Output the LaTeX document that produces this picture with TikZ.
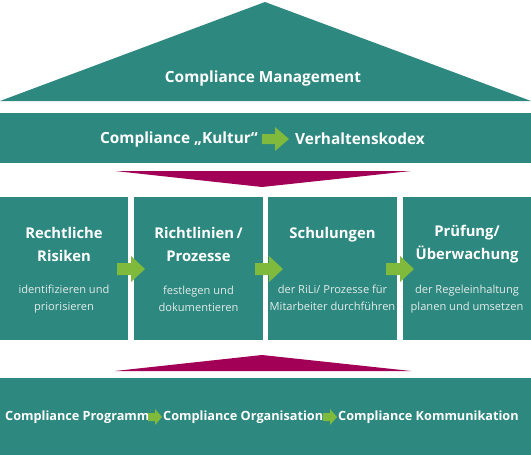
\documentclass[tikz,border=0pt]{standalone}
\usepackage{fontspec}
\setmainfont{Open Sans}
\begin{document}
\begin{tikzpicture}[x=1pt,y=-1pt,
  teal/.style={fill=tealc,draw=none},
  mag/.style={fill=magc,draw=none},
  grn/.style={fill=grnc,draw=none},
  title/.style={text=white,font=\bfseries\fontsize{14.8}{23}\selectfont,align=center,inner sep=0pt},
  sub/.style={text=subc,font=\fontsize{11.1}{16.5}\selectfont,align=center,inner sep=0pt},
  band/.style={text=white,font=\bfseries\fontsize{15.4}{17}\selectfont,inner sep=0pt},
  bandsmall/.style={text=white,font=\bfseries\fontsize{12.7}{14}\selectfont,inner sep=0pt}
]
\definecolor{tealc}{RGB}{45,136,128}
\definecolor{magc}{RGB}{162,0,86}
\definecolor{grnc}{RGB}{128,186,60}
\definecolor{subc}{RGB}{228,236,234}
\useasboundingbox (0,0) rectangle (531,455);
% roof
\fill[teal] (265,2) -- (531,101) -- (0,101) -- cycle;
\node[band] (roof) at (263,78) {Compliance Management};
% culture band
\fill[teal] (0,113) rectangle (531,163);
\node[band,anchor=east] (kultur) at (258,139) {Compliance „Kultur“};
\fill[grn] (262,134) -- (275,134) -- (275,127) -- (289,139) -- (275,151) -- (275,144) -- (262,144) -- cycle;
\node[band,anchor=west] (kodex) at (295,139) {Verhaltenskodex};
% magenta down
\fill[mag] (115,171) -- (411,171) -- (262,187) -- cycle;
% four boxes
\fill[teal] (0,197) rectangle (128,340);
\fill[teal] (134,197) rectangle (263,340);
\fill[teal] (268,197) rectangle (397,340);
\fill[teal] (403,197) rectangle (531,340);
\node[title] (t1) at (64,244) {Rechtliche\\Risiken};
\node[sub] (s1) at (64,299) {identifizieren und\\priorisieren};
\node[title] (t2) at (198.5,244) {Richtlinien\,/\\Prozesse};
\node[sub] (s2) at (198.5,299) {festlegen und\\dokumentieren};
\node[title] (t3) at (332.5,235) {Schulungen};
\node[sub] (s3) at (332.5,298) {der RiLi/ Prozesse für\\Mitarbeiter durchführen};
\node[title] (t4) at (467,244) {Prüfung/\\Überwachung};
\node[sub] (s4) at (467,299) {der Regeleinhaltung\\planen und umsetzen};
% green arrows between boxes
\fill[grn] (117,263) -- (131,263) -- (131,256) -- (145,269) -- (131,282) -- (131,275) -- (117,275) -- cycle;
\fill[grn] (255,263) -- (269,263) -- (269,256) -- (283,269) -- (269,282) -- (269,275) -- (255,275) -- cycle;
\fill[grn] (386,263) -- (400,263) -- (400,256) -- (414,269) -- (400,282) -- (400,275) -- (386,275) -- cycle;
% magenta up
\fill[mag] (262,355) -- (411,371) -- (115,371) -- cycle;
% bottom band
\fill[teal] (0,378) rectangle (531,455);
\node[bandsmall,anchor=west] (p1) at (5,417) {Compliance Programm};
\fill[grn] (148,413) -- (155,413) -- (155,409) -- (162,417) -- (155,425) -- (155,421) -- (148,421) -- cycle;
\node[bandsmall,anchor=west] (p2) at (163,417) {Compliance Organisation};
\fill[grn] (323,413) -- (330,413) -- (330,409) -- (337,417) -- (330,425) -- (330,421) -- (323,421) -- cycle;
\node[bandsmall,anchor=west] (p3) at (338,417) {Compliance Kommunikation};
\end{tikzpicture}
\end{document}
